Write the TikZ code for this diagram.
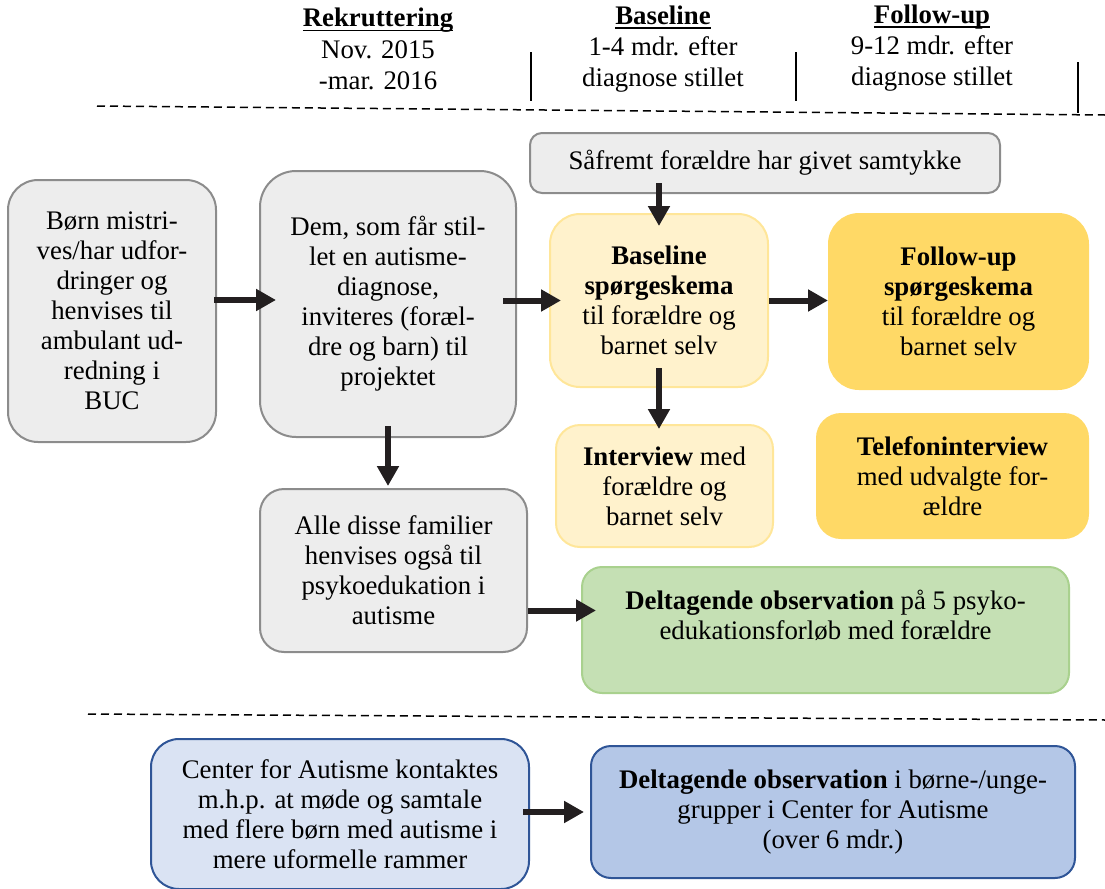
\documentclass[tikz,border=0pt]{standalone}
\usepackage{fontspec}
\setmainfont{Liberation Serif}
\usetikzlibrary{arrows.meta}

\definecolor{grayfill}{HTML}{EDEDED}
\definecolor{graydraw}{HTML}{8C8C8C}
\definecolor{paleyellow}{HTML}{FFF2CC}
\definecolor{paleyellowdraw}{HTML}{FFE699}
\definecolor{gold}{HTML}{FFD966}
\definecolor{greenfill}{HTML}{C5E0B4}
\definecolor{greendraw}{HTML}{A9D18E}
\definecolor{bluelight}{HTML}{DAE3F3}
\definecolor{bluemid}{HTML}{B4C7E7}
\definecolor{bluedraw}{HTML}{2F5597}
\definecolor{arrowblack}{HTML}{231F20}

\newcommand{\hdr}[1]{\setbox0\hbox{\textbf{#1}}\rlap{\rule[-2.2pt]{\wd0}{0.7pt}}\box0}

\begin{document}
\begin{tikzpicture}[x=0.5pt, y=-0.5pt, font=\fontsize{13.4}{15}\selectfont]
                \tikzset{
                    box/.style={draw, line width=1pt, align=center, inner sep=0pt},
                    graybox/.style={box, draw=graydraw, fill=grayfill},
                    paleyellowbox/.style={box, draw=paleyellowdraw, fill=paleyellow},
                    goldbox/.style={box, draw=gold, fill=gold},
                    greenbox/.style={box, draw=greendraw, fill=greenfill},
                    lightbluebox/.style={box, draw=bluedraw, fill=bluelight},
                    bluebox/.style={box, draw=bluedraw, fill=bluemid},
                    header/.style={align=center, font=\fontsize{13.4}{15.6}\selectfont},
                    arr/.style={-{Triangle[length=10pt, width=10.5pt]}, line width=3pt, draw=arrowblack, fill=arrowblack},
                    sep/.style={line width=0.75pt, dash pattern=on 4pt off 2.5pt}
                }
                \useasboundingbox (0,0) rectangle (1105,889);

                % HEADER
                \node[header] (rekr) at (378,49) {\hdr{Rekruttering}\\Nov. 2015\\-mar. 2016};
                \node[header] (basehdr) at (663,49) {\hdr{Baseline}\\1-4 mdr. efter\\diagnose stillet};
                \node[header] (followhdr) at (932,48) {\hdr{Follow-up}\\9-12 mdr. efter\\diagnose stillet};
                \draw[line width=1pt] (531,52) -- (531,101);
                \draw[line width=1pt] (796,52) -- (796,101);
                \draw[line width=1pt] (1078,62) -- (1078,113);
                \draw[sep] (97,106) -- (1105,115);

                % BOXES
                \node[graybox, rounded corners=15pt, minimum width=104pt, minimum height=131pt] (boern) at (112,311)
                    {Børn mistri-\\ves/har udfor-\\dringer og\\henvises til\\ambulant ud-\\redning i\\BUC};
                \node[graybox, rounded corners=18pt, minimum width=128pt, minimum height=133pt] (dem) at (388,304)
                    {Dem, som får stil-\\let en autisme-\\diagnose,\\inviteres (foræl-\\dre og barn) til\\projektet};
                \node[graybox, rounded corners=6pt, minimum width=235pt, minimum height=30pt] (saafremt) at (765,163)
                    {Såfremt forældre har givet samtykke};
                \node[paleyellowbox, rounded corners=15pt, minimum width=109pt, minimum height=86.5pt] (baseline) at (659,300.5)
                    {\textbf{Baseline}\\\textbf{spørgeskema}\\til forældre og\\barnet selv};
                \node[goldbox, rounded corners=15pt, minimum width=129.5pt, minimum height=87.5pt] (followup) at (958.5,301.5)
                    {\textbf{Follow-up}\\\textbf{spørgeskema}\\til forældre og\\barnet selv};
                \node[paleyellowbox, rounded corners=12pt, minimum width=108.5pt, minimum height=61pt] (interview) at (664.5,486)
                    {\textbf{Interview} med\\forældre og\\barnet selv};
                \node[goldbox, rounded corners=12pt, minimum width=135.5pt, minimum height=62pt] (telefon) at (952.5,476)
                    {\textbf{Telefoninterview}\\med udvalgte for-\\ældre};
                \node[graybox, rounded corners=12pt, minimum width=133.5pt, minimum height=81.5pt] (alle) at (393.5,570.5)
                    {Alle disse familier\\henvises også til\\psykoedukation i\\autisme};
                \node[greenbox, rounded corners=10pt, minimum width=243.5pt, minimum height=63pt] (psyko) at (825.5,630)
                    {\textbf{Deltagende observation} på 5 psyko-\\edukationsforløb med forældre\\~};

                \draw[sep] (88,714) -- (1105,720);

                \node[lightbluebox, rounded corners=14pt, minimum width=189pt, minimum height=75pt] (cfa) at (340,814)
                    {Center for Autisme kontaktes\\m.h.p. at møde og samtale\\med flere børn med autisme i\\mere uformelle rammer};
                \node[bluebox, rounded corners=10pt, minimum width=242pt, minimum height=66pt] (grupper) at (833,812)
                    {\textbf{Deltagende observation} i børne-/unge-\\grupper i Center for Autisme\\(over 6 mdr.)};

                % ARROWS
                \draw[arr, shorten <=-1.5pt, shorten >=-8.5pt] ([yshift=2pt]boern.east |- dem.west) -- ([yshift=2pt]dem.west);
                \draw[arr, shorten <=-7pt, shorten >=-6pt] (dem.east |- baseline.west) -- (baseline.west);
                \draw[arr] (baseline.east) -- (followup.west |- baseline.east);
                \draw[arr, shorten <=-5.5pt, shorten >=-6.5pt] (baseline.north |- saafremt.south) -- (baseline.north);
                \draw[arr, shorten <=-10pt, shorten >=-2.5pt] (baseline.south) -- (baseline.south |- interview.north);
                \draw[arr, shorten <=-6pt, shorten >=1pt] (dem.south) -- (dem.south |- alle.north);
                \draw[arr, shorten >=-7.5pt] ([yshift=-20pt]alle.east) -- ([yshift=-20pt]alle.east -| psyko.west);
                \draw[arr, shorten <=-3.5pt, shorten >=3pt] (cfa.east |- grupper.west) -- (grupper.west);

            \end{tikzpicture}
\end{document}
